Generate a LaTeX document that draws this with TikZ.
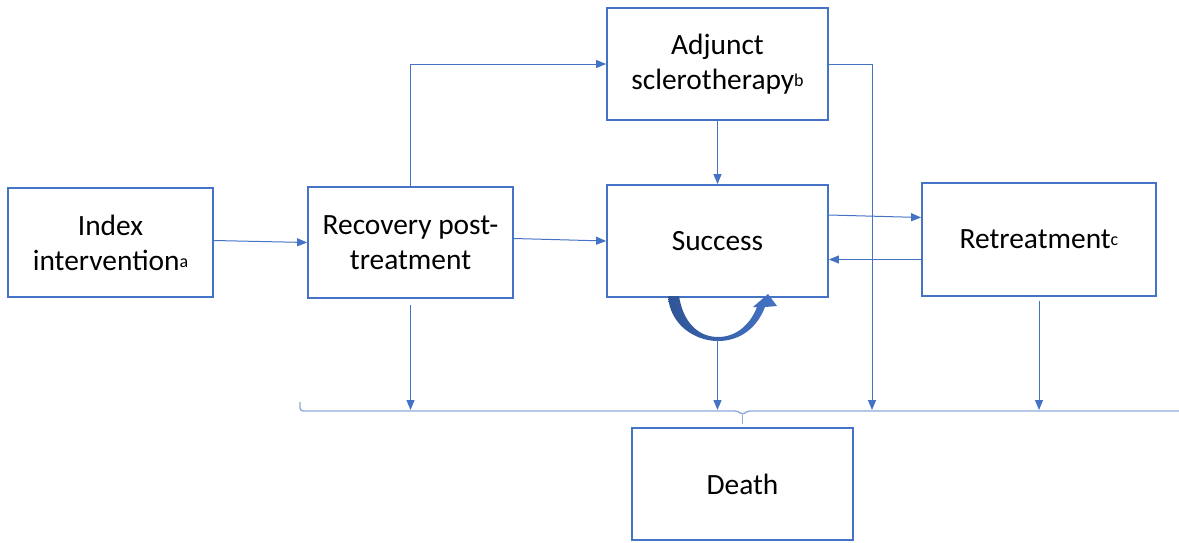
\documentclass[tikz,border=0pt]{standalone}
\usepackage{fontspec}
\setmainfont{Carlito}
\usepackage{xcolor}
\definecolor{boxblue}{RGB}{68, 114, 196}
\definecolor{bracelight}{RGB}{143, 170, 220}
\definecolor{loopdark}{RGB}{47, 85, 151}
\usepackage{tikz}
\usetikzlibrary{arrows.meta, positioning, calc}

\newcommand{\note}[1]{\raisebox{1.5pt}{\fontsize{9}{9}\selectfont #1}}

\begin{document}
\begin{tikzpicture}[x=0.5pt, y=-0.5pt, >={Triangle[length=5pt, width=4pt]},
    stage/.style={draw=boxblue, line width=0.9pt, align=center, inner sep=0pt,
        font=\fontsize{14.7}{17.5}\selectfont},
    flow/.style={->, boxblue, line width=0.5pt},
    brace/.style={bracelight, line width=0.7pt, rounded corners=1.5pt}]
    \useasboundingbox (0,0) rectangle (1179,542);

    % states
    \node[stage, minimum width=102.5pt, minimum height=54.5pt] (index) at (110.5,242.5) {Index\\intervention\note{a}};
    \node[stage, minimum width=102.5pt, minimum height=55.5pt] (recovery) at (410.5,242.5) {Recovery post-\\treatment};
    \node[stage, minimum width=110.5pt, minimum height=56pt] (adjunct) at (717.5,64) {Adjunct\\sclerotherapy\note{b}};
    \node[stage, minimum width=110.5pt, minimum height=56pt] (success) at (717.5,241) {Success};
    \node[stage, minimum width=117pt, minimum height=56.5pt] (retreat) at (1039,239.5) {Retreatment\note{c}};
    \node[stage, minimum width=110.5pt, minimum height=56pt] (death) at (742.5,484) {Death};

    \coordinate (rail) at (0,410);
    \coordinate (bypass) at (872,64);
    \coordinate (loopbot) at (717.5,340);

    % transitions
    \draw[flow] ([yshift=1pt]index.east) -- (recovery.west);
    \draw[flow] ([yshift=2pt]recovery.east) -- (success.west);
    \draw[flow] (recovery.north) |- (adjunct.west);
    \draw[flow] (adjunct.south) -- (success.north);
    \draw[flow] (adjunct.east) -- (bypass) -- (bypass |- rail);
    \draw[flow] ([yshift=13pt]success.east) -- ([yshift=11pt]retreat.west);
    \draw[flow] ([yshift=-10pt]retreat.west) -- ([yshift=-10pt]retreat.west -| success.east);

    % staying in success
    \shade[left color=loopdark, right color=boxblue]
        (668,296) .. controls (670,325) and (695,341) .. (718,341)
        .. controls (740,341) and (757,328) .. (765,307) -- (777,306) -- (768,294)
        -- (753,307) -- (757,307) .. controls (750,325) and (736,337) .. (718,337)
        .. controls (698,337) and (683,322) .. (679,296) -- cycle;

    % to death
    \draw[flow] ([yshift=-3pt]recovery.south) -- (recovery.south |- rail);
    \draw[flow] (loopbot) -- (loopbot |- rail);
    \draw[flow] ([yshift=-2pt]retreat.south) -- (retreat.south |- rail);
    \draw[brace] (300,402) -- (300,411) -- (738,411) -- (742.5,415) -- (747,411) -- (1179,411);
    \draw[brace] (742.5,415) -- (742.5,424);
\end{tikzpicture}
\end{document}
